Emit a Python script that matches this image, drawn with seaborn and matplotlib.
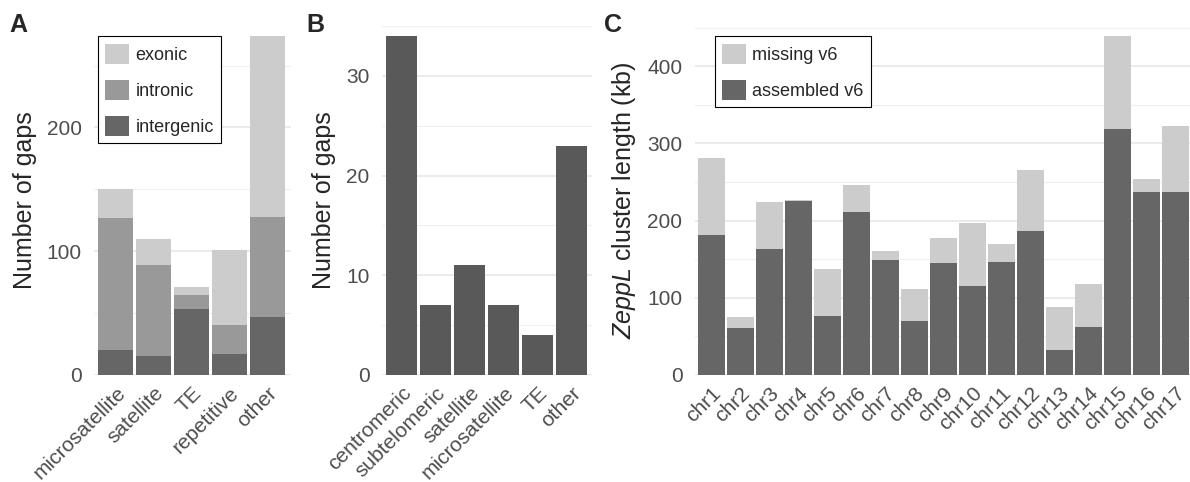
import numpy as np
import matplotlib
matplotlib.use("AGG")
import matplotlib.pyplot as plt
from matplotlib.patches import Patch
from matplotlib.ticker import MultipleLocator
import seaborn as sns

# A: gaps per repeat class, split by genomic context
a_classes = ["microsatellite", "satellite", "TE", "repetitive", "other"]
a_intergenic = [20, 15, 53, 17, 47]
a_intronic = [107, 74, 12, 23, 81]
a_exonic = [23, 21, 6, 61, 146]

# B: gaps per location class
b_classes = ["centromeric", "subtelomeric", "satellite", "microsatellite", "TE", "other"]
b_gaps = [34, 7, 11, 7, 4, 23]

# C: ZeppL cluster length per chromosome (kb)
chroms = ["chr1", "chr2", "chr3", "chr4", "chr5", "chr6", "chr7", "chr8", "chr9",
          "chr10", "chr11", "chr12", "chr13", "chr14", "chr15", "chr16", "chr17"]
c_assembled = [181, 61, 163, 225, 76, 211, 149, 70, 145, 115, 146, 186, 32, 62, 318, 237, 237]
c_missing = [100, 14, 61, 2, 61, 35, 12, 41, 32, 82, 24, 79, 56, 56, 121, 17, 85]

LIGHT = "#CCCCCC"
MID = "#999999"
DARK = "#666666"

sns.set_theme(style="white")
plt.rcParams["font.family"] = ["Liberation Sans", "DejaVu Sans"]
plt.rcParams["mathtext.fontset"] = "custom"
plt.rcParams["mathtext.rm"] = "Liberation Sans"
plt.rcParams["mathtext.it"] = "Liberation Sans:italic"

W, H = 1190, 482
fig = plt.figure(figsize=(W / 100, H / 100), dpi=100)


def px_axes(x0, x1, y0, y1):
    return fig.add_axes([x0 / W, 1 - y1 / H, (x1 - x0) / W, (y1 - y0) / H])


def stacked(ax, cats, layers, colors):
    # draw the running totals back to front so the layers stack
    tops = np.cumsum(np.array(layers, dtype=float), axis=0)
    for top, col in zip(tops[::-1], colors[::-1]):
        sns.barplot(x=cats, y=top, color=col, saturation=1, width=0.92,
                    linewidth=0, ax=ax, zorder=3)


def style(ax, cats, ymax, major, xlim):
    ax.set_ylim(0, ymax)
    ax.set_xlim(*xlim)
    ax.yaxis.set_major_locator(MultipleLocator(major))
    ax.yaxis.set_minor_locator(MultipleLocator(major / 2))
    ax.grid(True, axis="y", which="major", color="#EBEBEB", linewidth=1.5, zorder=0)
    ax.grid(True, axis="y", which="minor", color="#F0F0F0", linewidth=0.9, zorder=0)
    ax.grid(False, axis="x")
    ax.set_axisbelow(True)
    for s in ax.spines.values():
        s.set_visible(False)
    ax.tick_params(axis="both", which="both", length=0)
    ax.tick_params(axis="y", labelsize=15, labelcolor="#4D4D4D", pad=9)
    ax.set_xticks(range(len(cats)))
    ax.set_xticklabels(cats, rotation=45, ha="right", va="top",
                       rotation_mode="anchor", fontsize=15, color="#4D4D4D")
    ax.tick_params(axis="x", pad=6)
    ax.set_xlabel("")


def legend(ax, labels, colors, anchor):
    handles = [Patch(facecolor=c, edgecolor="none") for c in colors]
    lg = ax.legend(handles, labels, loc="upper left", bbox_to_anchor=anchor,
                   borderaxespad=0, fontsize=13, handlelength=1.33, handleheight=1.33,
                   handletextpad=0.35, labelspacing=0.88, borderpad=0.4,
                   fancybox=False, framealpha=1, edgecolor="black")
    lg.get_frame().set_linewidth(0.8)
    lg.set_zorder(5)


# panel A
axA = px_axes(94, 291, 26, 375)
stacked(axA, a_classes, [a_intergenic, a_intronic, a_exonic], [DARK, MID, LIGHT])
style(axA, a_classes, 282, 100, (-0.57, 4.62))
axA.set_ylabel("Number of gaps", fontsize=18, labelpad=7)
legend(axA, ["exonic", "intronic", "intergenic"], [LIGHT, MID, DARK], (0.02, 0.97))

# panel B
axB = px_axes(382, 592, 26, 375)
sns.barplot(x=b_classes, y=b_gaps, color="#595959", saturation=1, width=0.92,
            linewidth=0, ax=axB, zorder=3)
style(axB, b_classes, 35, 10, (-0.58, 5.6))
axB.set_ylabel("Number of gaps", fontsize=18, labelpad=7)

# panel C
axC = px_axes(695, 1190, 26, 375)
stacked(axC, chroms, [c_assembled, c_missing], [DARK, LIGHT])
style(axC, chroms, 452, 100, (-0.57, 16.5))
axC.set_ylabel(r"$\mathit{ZeppL}$ cluster length (kb)", fontsize=18, labelpad=7)
legend(axC, ["missing v6", "assembled v6"], [LIGHT, DARK], (0.04, 0.97))

for x, lab in [(9, "A"), (306, "B"), (604, "C")]:
    fig.text(x / W, 1 - 13 / H, lab, fontsize=18, fontweight="bold", va="top", ha="left")

fig.savefig("out.png", dpi=100)
